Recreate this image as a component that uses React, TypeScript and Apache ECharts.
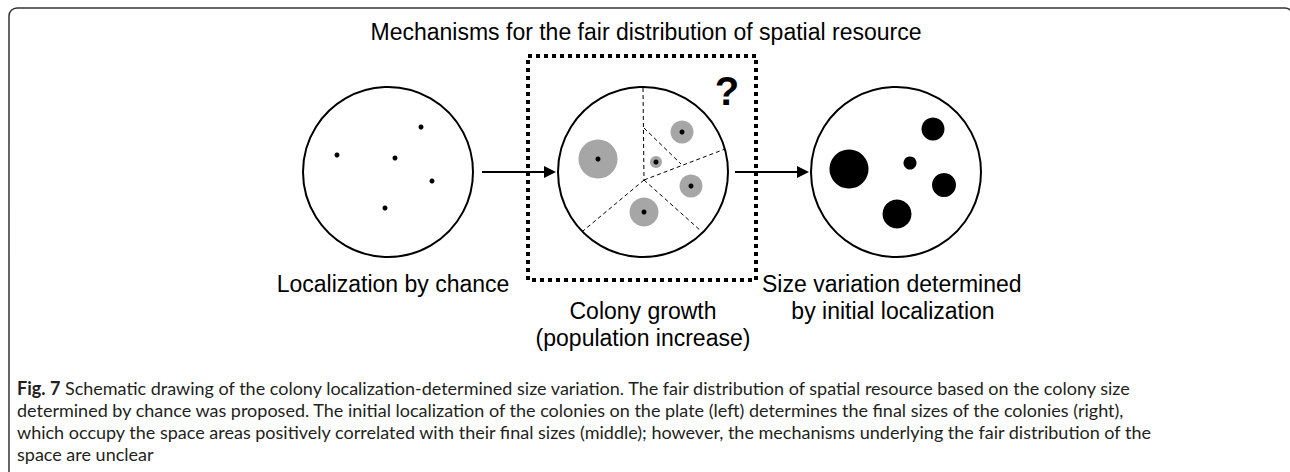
import React, { useEffect, useRef } from "react";
import * as echarts from "echarts";

// ---- data (pixel-space schematic coordinates) ----
const plateCenters: number[][] = [[388, 172], [643, 172], [896, 172]];
const plateDiameter = 170;

const seedPoints: number[][] = [[337, 155], [421, 127], [395, 158], [432, 181], [385, 208]];

const zoneCenters: number[][] = [[598, 159], [656, 162], [682, 132], [691, 186], [644, 212]];
const zoneDiameters: number[] = [39, 12, 23, 23, 29];

const colonyCenters: number[][] = [[849, 169], [910, 163], [933, 129], [944, 185], [897, 214]];
const colonyDiameters: number[] = [39, 13, 23, 24, 29];

const boundarySegments: number[][][] = [
  [[643, 88], [644, 180]],
  [[644, 180], [583, 231]],
  [[644, 180], [701, 231]],
  [[644, 180], [725, 149]],
  [[644, 128], [681, 164]],
];

const arrowSegments: number[][][] = [
  [[482, 172], [550, 172]],
  [[735, 172], [803, 172]],
];

const mechanismBox: number[][] = [[528, 56], [756, 56], [756, 280], [528, 280], [528, 56]];

const titleText = "Mechanisms for the fair distribution of spatial resource";
const leftLabel = "Localization by chance";
const middleLabel = ["Colony growth", "(population increase)"];
const rightLabel = ["Size variation determined", "by initial localization"];
const captionLines = [
  "Schematic drawing of the colony localization-determined size variation. The fair distribution of spatial resource based on the colony size",
  "determined by chance was proposed. The initial localization of the colonies on the plate (left) determines the final sizes of the colonies (right),",
  "which occupy the space areas positively correlated with their final sizes (middle); however, the mechanisms underlying the fair distribution of the",
  "space are unclear",
];

const W = 1290;
const H = 472;
const DIAGRAM_FONT = "'Liberation Sans', Arial, sans-serif";
const CAPTION_FONT = "Lato, 'Open Sans', sans-serif";

export default function App() {
  const ref = useRef<HTMLDivElement>(null);

  useEffect(() => {
    if (!ref.current) return;
    const chart = echarts.init(ref.current, undefined, { renderer: "svg" });

    const captionY0 = 388;
    const captionStep = 22;
    const labelRow1 = 284;
    const labelStep = 27;

    const textStyle = (text: string, align: string) => ({
      text,
      font: `23px ${DIAGRAM_FONT}`,
      fill: "#000",
      align,
      verticalAlign: "middle",
    });

    const option: any = {
      animation: false,
      backgroundColor: "#ffffff",
      grid: { left: 0, top: 0, right: 0, bottom: 0, containLabel: false },
      xAxis: { type: "value", min: 0, max: W, show: false },
      yAxis: { type: "value", min: 0, max: H, inverse: true, show: false },
      series: [
        {
          name: "plates",
          type: "scatter",
          symbol: "circle",
          symbolSize: plateDiameter,
          z: 1,
          itemStyle: { color: "rgba(255,255,255,0)", borderColor: "#000", borderWidth: 2, opacity: 1 },
          data: plateCenters,
          silent: true,
        },
        {
          name: "zones",
          type: "scatter",
          symbol: "circle",
          z: 2,
          itemStyle: { color: "#a6a6a6", opacity: 1 },
          data: zoneCenters.map((c, i) => ({ value: c, symbolSize: zoneDiameters[i] })),
          silent: true,
        },
        {
          name: "boundaries",
          type: "lines",
          coordinateSystem: "cartesian2d",
          z: 3,
          lineStyle: { color: "#000", width: 1, type: [4, 3], opacity: 1 },
          data: boundarySegments.map((s) => ({ coords: s })),
          silent: true,
        },
        {
          name: "seeds",
          type: "scatter",
          symbol: "circle",
          symbolSize: 5,
          z: 4,
          itemStyle: { color: "#000", opacity: 1 },
          data: [...seedPoints, ...zoneCenters],
          silent: true,
        },
        {
          name: "colonies",
          type: "scatter",
          symbol: "circle",
          z: 4,
          itemStyle: { color: "#000", opacity: 1 },
          data: colonyCenters.map((c, i) => ({ value: c, symbolSize: colonyDiameters[i] })),
          silent: true,
        },
        {
          name: "arrows",
          type: "lines",
          coordinateSystem: "cartesian2d",
          z: 5,
          symbol: ["none", "triangle"],
          symbolSize: 12,
          lineStyle: { color: "#000", width: 2, type: "solid", opacity: 1 },
          data: arrowSegments.map((s) => ({ coords: s })),
          silent: true,
        },
        {
          name: "box",
          type: "line",
          z: 6,
          symbol: "none",
          lineStyle: { color: "#000", width: 4, type: [4, 4], cap: "butt" },
          data: mechanismBox,
          silent: true,
        },
      ],
      graphic: [
        {
          type: "rect",
          silent: true,
          shape: { x: 9, y: 8, width: 1284, height: H + 20, r: 8 },
          style: { fill: "none", stroke: "#333", lineWidth: 1.5 },
        },
        { type: "text", x: 646, y: 32, style: textStyle(titleText, "center") },
        {
          type: "text",
          x: 727,
          y: 91,
          style: {
            text: "?",
            font: `bold 40px ${DIAGRAM_FONT}`,
            fill: "#000",
            align: "center",
            verticalAlign: "middle",
          },
        },
        { type: "text", x: 393, y: labelRow1, style: textStyle(leftLabel, "center") },
        ...middleLabel.map((t, i) => ({
          type: "text",
          x: 643,
          y: labelRow1 + (i + 1) * labelStep,
          style: textStyle(t, "center"),
        })),
        { type: "text", x: 762, y: labelRow1, style: textStyle(rightLabel[0], "left") },
        { type: "text", x: 893, y: labelRow1 + labelStep, style: textStyle(rightLabel[1], "center") },
        ...captionLines.map((t, i) => ({
          type: "text",
          x: 17,
          y: captionY0 + i * captionStep,
          style: {
            text: i === 0 ? `{b|Fig. 7} ${t}` : t,
            font: `18px ${CAPTION_FONT}`,
            fill: "#231f20",
            align: "left",
            verticalAlign: "middle",
            rich: {
              b: { font: `bold 18px ${CAPTION_FONT}`, fill: "#231f20" },
            },
          },
        })),
      ],
    };

    chart.setOption(option);
    return () => chart.dispose();
  }, []);

  return (
    <div
      ref={ref}
      style={{ position: "fixed", left: 0, top: 0, width: W, height: H, background: "#fff" }}
    />
  );
}
